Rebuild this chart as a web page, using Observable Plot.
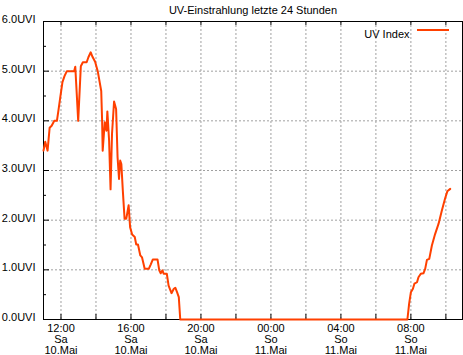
<!DOCTYPE html>
<html>
<head>
<meta charset="utf-8">
<script src="https://cdn.jsdelivr.net/npm/d3@7"></script>
<script src="https://cdn.jsdelivr.net/npm/@observablehq/plot@0.6"></script>
<style>
  html, body { margin: 0; padding: 0; background: #fff; }
  #chart { width: 463px; height: 355px; }
</style>
</head>
<body>
<div id="chart"></div>
<script>
const chartTitle = "UV-Einstrahlung letzte 24 Stunden";
const seriesName = "UV Index";

const times = [
"2025-05-10T11:00","2025-05-10T11:06","2025-05-10T11:14","2025-05-10T11:21","2025-05-10T11:28","2025-05-10T11:37","2025-05-10T11:46","2025-05-10T11:51","2025-05-10T11:57","2025-05-10T12:05","2025-05-10T12:12","2025-05-10T12:20",
"2025-05-10T12:45","2025-05-10T12:49","2025-05-10T12:59","2025-05-10T13:08","2025-05-10T13:15","2025-05-10T13:28","2025-05-10T13:34","2025-05-10T13:42","2025-05-10T13:48","2025-05-10T13:57",
"2025-05-10T14:06","2025-05-10T14:18","2025-05-10T14:21","2025-05-10T14:23","2025-05-10T14:30","2025-05-10T14:36","2025-05-10T14:39","2025-05-10T14:45","2025-05-10T14:50","2025-05-10T14:55",
"2025-05-10T15:02","2025-05-10T15:09","2025-05-10T15:14","2025-05-10T15:19","2025-05-10T15:23","2025-05-10T15:27","2025-05-10T15:32","2025-05-10T15:38","2025-05-10T15:44","2025-05-10T15:52","2025-05-10T15:57",
"2025-05-10T16:04","2025-05-10T16:13","2025-05-10T16:18","2025-05-10T16:24","2025-05-10T16:32","2025-05-10T16:38","2025-05-10T16:47",
"2025-05-10T17:01","2025-05-10T17:08","2025-05-10T17:15","2025-05-10T17:31","2025-05-10T17:37","2025-05-10T17:42","2025-05-10T17:48","2025-05-10T17:52",
"2025-05-10T18:03","2025-05-10T18:09","2025-05-10T18:19","2025-05-10T18:27","2025-05-10T18:32","2025-05-10T18:38","2025-05-10T18:44","2025-05-10T18:49",
"2025-05-11T07:48","2025-05-11T07:54","2025-05-11T08:00","2025-05-11T08:07","2025-05-11T08:12","2025-05-11T08:21","2025-05-11T08:26","2025-05-11T08:34","2025-05-11T08:43","2025-05-11T08:49","2025-05-11T08:55",
"2025-05-11T09:03","2025-05-11T09:12","2025-05-11T09:23","2025-05-11T09:35","2025-05-11T09:46","2025-05-11T09:57","2025-05-11T10:05","2025-05-11T10:15"
];

const uvi = [
3.40,3.58,3.40,3.86,3.90,4.00,4.00,4.20,4.45,4.78,4.90,5.00,
5.00,5.09,4.00,5.10,5.18,5.18,5.28,5.38,5.29,5.19,
5.00,4.60,4.00,3.40,3.97,3.80,4.19,3.60,2.62,3.74,
4.39,4.24,3.27,2.83,3.20,3.13,2.60,2.03,2.03,2.30,1.86,
1.71,1.66,1.51,1.51,1.29,1.25,1.02,
1.02,1.11,1.21,1.21,0.99,0.93,0.99,0.92,
0.92,0.68,0.53,0.62,0.64,0.55,0.45,0.00,
0.00,0.32,0.55,0.62,0.72,0.75,0.85,0.92,0.93,1.02,1.20,
1.22,1.49,1.72,1.93,2.19,2.43,2.58,2.63
];

const xDomain = ["2025-05-10T11:00", "2025-05-11T10:57"];
const xTickTimes = ["2025-05-10T12:00","2025-05-10T16:00","2025-05-10T20:00","2025-05-11T00:00","2025-05-11T04:00","2025-05-11T08:00"];
const xTickLabels = ["12:00\nSa\n10.Mai","16:00\nSa\n10.Mai","20:00\nSa\n10.Mai","00:00\nSo\n11.Mai","04:00\nSo\n11.Mai","08:00\nSo\n11.Mai"];
const xGridTimes = ["2025-05-10T12:00","2025-05-10T14:00","2025-05-10T16:00","2025-05-10T18:00","2025-05-10T20:00","2025-05-10T22:00","2025-05-11T00:00","2025-05-11T02:00","2025-05-11T04:00","2025-05-11T06:00","2025-05-11T08:00","2025-05-11T10:00"];
const yTicks = [0,1,2,3,4,5,6];
const yMinorTicks = [0.5,1.5,2.5,3.5,4.5,5.5];

const parse = s => new Date(s);
const data = times.map((t, i) => ({time: parse(t), uvi: uvi[i]}));

const W = 463, H = 355, ML = 43, MR = 1, MT = 21, MB = 36;
const PW = W - ML - MR, PH = H - MT - MB;
const lineColor = "#ff4000";
const gridColor = "#a0a0a0";

const legendLine = (index, scales, values, dims) => {
  const g = d3.create("svg:g");
  const right = dims.width - dims.marginRight;
  const y = dims.marginTop + 9;
  g.append("line")
    .attr("x1", right - 45).attr("x2", right - 13)
    .attr("y1", y).attr("y2", y)
    .attr("stroke", lineColor).attr("stroke-width", 2);
  return g.node();
};

const chart = Plot.plot({
  width: W, height: H,
  marginLeft: ML, marginRight: MR, marginTop: MT, marginBottom: MB,
  style: {fontFamily: "'Liberation Sans', Arial, sans-serif", fontSize: "11px", background: "#fff", color: "#000", overflow: "visible"},
  x: {type: "time", domain: xDomain.map(parse), axis: null},
  y: {domain: [0, 6], axis: null},
  marks: [
    Plot.ruleX(xGridTimes, {x: parse, stroke: gridColor, strokeDasharray: "2,2", strokeOpacity: 1}),
    Plot.ruleY(yTicks.slice(1, -1), {y: d => d, stroke: gridColor, strokeDasharray: "2,2", strokeOpacity: 1}),
    Plot.ruleY(yTicks, {y: d => d, insetRight: PW - 6, stroke: "#000"}),
    Plot.ruleY(yMinorTicks, {y: d => d, insetRight: PW - 3, stroke: "#000"}),
    Plot.ruleX(xGridTimes, {x: parse, insetTop: PH - 5, stroke: "#000"}),
    Plot.ruleX(xGridTimes, {x: parse, insetBottom: PH - 4, stroke: "#000"}),
    Plot.frame({stroke: "#000"}),
    Plot.text(yTicks, {y: d => d, frameAnchor: "left", dx: -8, dy: -2, textAnchor: "end", text: d => d.toFixed(1) + "UVI", fill: "#000"}),
    Plot.text(xTickTimes, {x: parse, frameAnchor: "bottom", lineAnchor: "top", dy: 5, lineHeight: 0.98, text: (d, i) => xTickLabels[i], fill: "#000"}),
    Plot.text([chartTitle], {frameAnchor: "top", dy: -15.5, text: d => d, fill: "#000"}),
    Plot.text([seriesName], {frameAnchor: "top-right", dx: -53, dy: 9, textAnchor: "end", text: d => d, fill: "#000"}),
    legendLine,
    Plot.line(data, {x: "time", y: "uvi", stroke: lineColor, strokeWidth: 2, strokeLinejoin: "round"})
  ]
});
document.getElementById("chart").appendChild(chart);
</script>
</body>
</html>
